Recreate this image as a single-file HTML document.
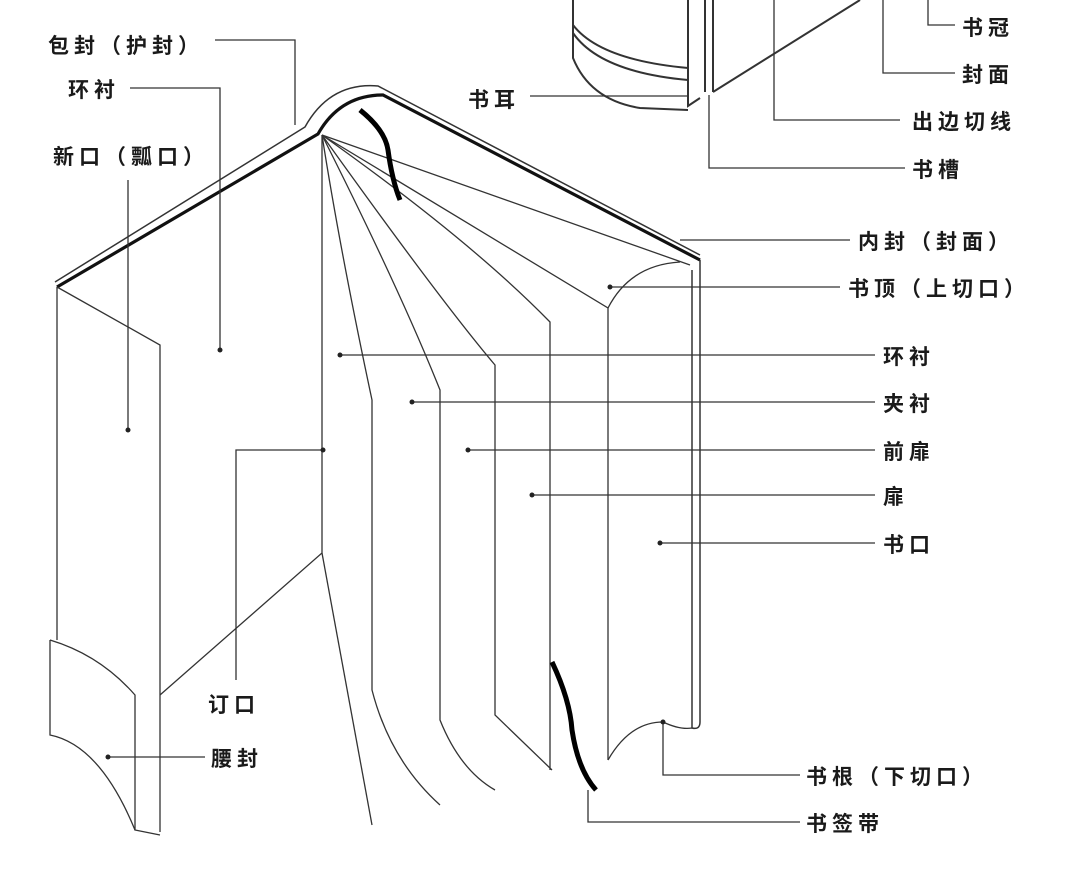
<!DOCTYPE html>
<html><head><meta charset="utf-8"><style>
body{margin:0;background:#fff;}
svg{display:block}
text{font-family:"Liberation Sans","Noto Sans CJK SC","WenQuanYi Zen Hei",sans-serif;font-size:21px;font-weight:bold;fill:#1a1a1a;letter-spacing:5px}
</style></head><body>
<svg width="1080" height="869" viewBox="0 0 1080 869" xmlns="http://www.w3.org/2000/svg">
<g fill="none" stroke="#333" stroke-width="1.3">
<path d="M573 0 V58 Q590 100 640 108 L688 110" stroke-width="2"/>
<path d="M573 25 Q600 60 688 68" stroke-width="2"/>
<path d="M573 33 Q600 72 688 80" stroke-width="2"/>
<path d="M688 0 V106 L700 98" stroke-width="2"/>
<path d="M705 0 V92 M713 0 V92" stroke-width="2"/>
<path d="M713 92 L860 0" stroke-width="2"/>
<path d="M928 0 V25 H955"/>
<path d="M883 0 V73 H955"/>
<path d="M774 0 V120 H900"/>
<path d="M709 95 V168 H905"/>
<path d="M530 96 H688"/>
<path d="M55 282 L305 127 Q330 82 378 86 L700 255" stroke-width="1.5"/>
<path d="M57 287 L318 134 Q340 95 383 95 L700 260" stroke="#111" stroke-width="3.2"/>
<path d="M700 260 V722 Q700 730 692 728 V270" stroke-width="1.5"/>
<path d="M57 287 V640"/>
<path d="M57 287 L160 345 V832"/>
<path d="M50 640 Q100 655 135 695 V830 L160 835"/>
<path d="M50 640 V735 Q100 745 135 830"/>
<path d="M322 135 V553 L160 695"/>
<path d="M322 553 L372 825"/>
<path d="M322 135 Q340 250 372 400 V690 Q390 760 440 805"/>
<path d="M322 135 Q400 290 440 390 V720 Q460 770 495 790"/>
<path d="M322 135 Q440 300 495 365 V715 L552 770"/>
<path d="M322 135 Q470 240 550 322 V770"/>
<path d="M322 135 L608 308 V760"/>
<path d="M608 308 Q630 265 680 262"/>
<path d="M322 135 L690 265"/>
<path d="M608 760 Q630 722 663 722 Q680 730 692 728"/>
<path d="M360 110 Q385 130 388 150 Q392 180 400 200" stroke="#000" stroke-width="5"/>
<path d="M552 662 Q570 700 572 730 Q578 770 596 790" stroke="#000" stroke-width="5"/>
<path d="M215 40 H295 V125"/>
<path d="M130 88 H220 V350"/>
<path d="M128 180 V430"/>
<path d="M323 450 H236 V680"/>
<path d="M108 757 H205"/>
<path d="M680 240 H850"/>
<path d="M610 287 H840"/>
<path d="M340 355 H875"/>
<path d="M412 402 H875"/>
<path d="M468 450 H875"/>
<path d="M532 495 H875"/>
<path d="M660 543 H875"/>
<path d="M663 722 V775 H800"/>
<path d="M588 790 V822 H800"/>
</g>
<g fill="#222">
<circle cx="220" cy="350" r="2.5"/><circle cx="128" cy="430" r="2.5"/><circle cx="323" cy="450" r="2.5"/>
<circle cx="108" cy="757" r="2.5"/><circle cx="610" cy="287" r="2.5"/><circle cx="340" cy="355" r="2.5"/>
<circle cx="412" cy="402" r="2.5"/><circle cx="468" cy="450" r="2.5"/><circle cx="532" cy="495" r="2.5"/>
<circle cx="660" cy="543" r="2.5"/><circle cx="663" cy="722" r="2.5"/>
</g>
<text x="48" y="53">包封（护封）</text>
<text x="68" y="97">环衬</text>
<text x="53" y="164">新口（瓢口）</text>
<text x="468" y="107">书耳</text>
<text x="962" y="35">书冠</text>
<text x="962" y="82">封面</text>
<text x="912" y="129">出边切线</text>
<text x="912" y="177">书槽</text>
<text x="858" y="249">内封（封面）</text>
<text x="848" y="296">书顶（上切口）</text>
<text x="883" y="364">环衬</text>
<text x="883" y="411">夹衬</text>
<text x="883" y="459">前扉</text>
<text x="883" y="504">扉</text>
<text x="883" y="552">书口</text>
<text x="208" y="712">订口</text>
<text x="211" y="766">腰封</text>
<text x="806" y="784">书根（下切口）</text>
<text x="806" y="831">书签带</text>
</svg>
</body></html>
